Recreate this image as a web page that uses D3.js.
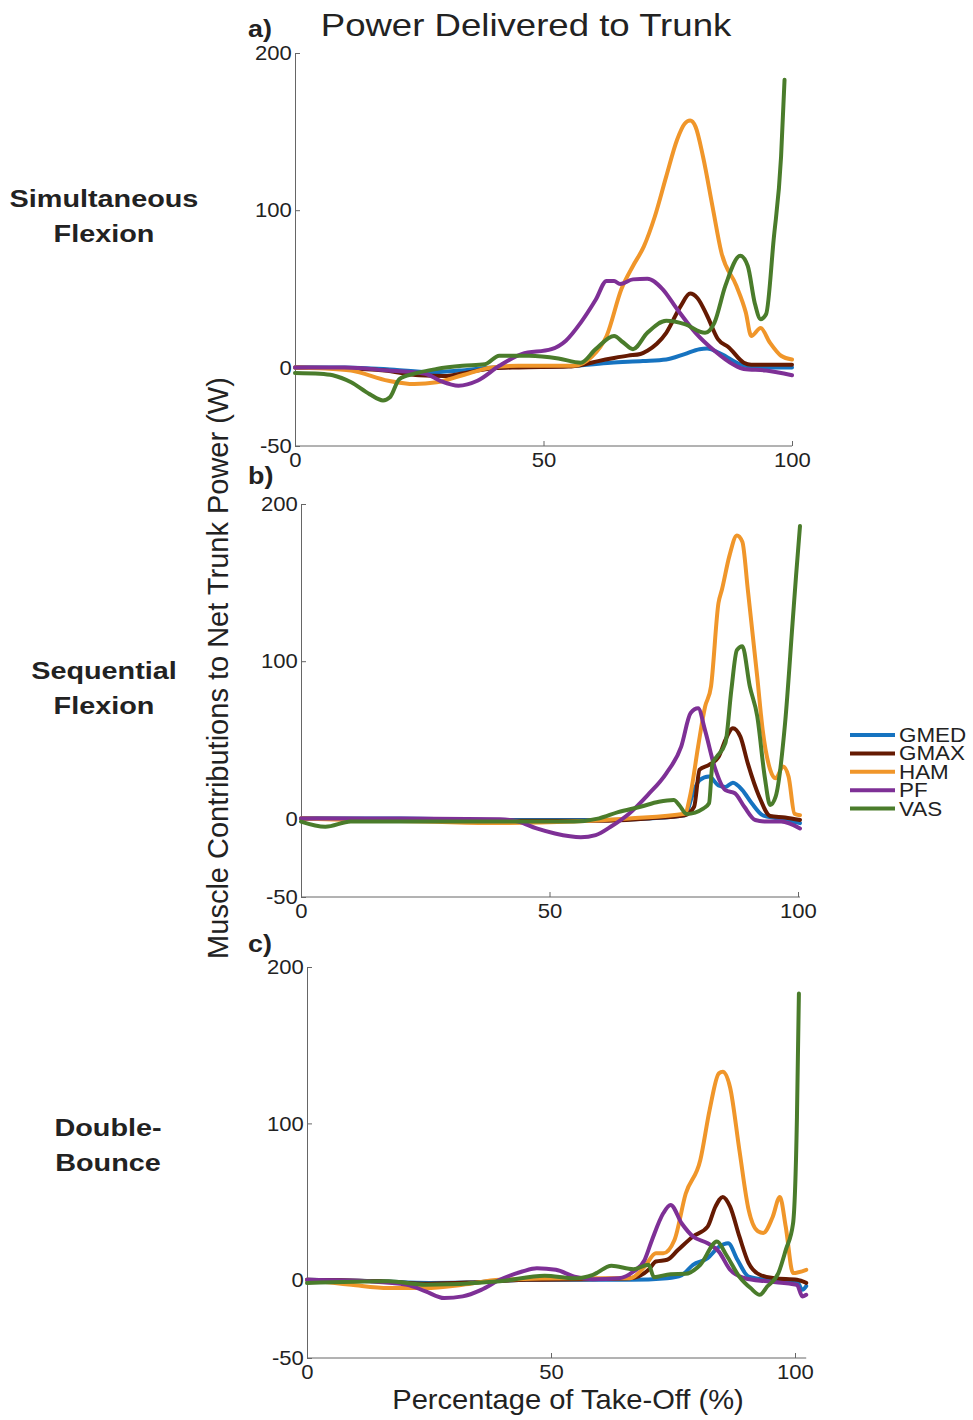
<!DOCTYPE html>
<html>
<head>
<meta charset="utf-8">
<script src="https://cdn.jsdelivr.net/npm/d3@7"></script>
<style>
  body { margin: 0; background: #fff; }
  text { font-family: "Liberation Sans", Arial, sans-serif; fill: #222; }
</style>
</head>
<body>
<div id="chart"></div>
<script>
// muscles, drawn in this order (VAS last, on top)
var muscles = ['GMED', 'GMAX', 'HAM', 'PF', 'VAS'];
var colors = ['#1673c0', '#651a02', '#f0962a', '#7e3096', '#4a7c2b'];
var xTicks = [0, 50, 100];
var yTicks = [-50, 0, 100, 200];

// a) Simultaneous Flexion  [percent take-off, power W]
var simGMED = [[0,0],[10,0],[20,-1.5],[27,-3],[33,-2],[40,0],[50,0.5],[56,1],[63.5,3],[70,4],[74.7,5],[78.4,8.5],[81.4,11.6],[82.9,12],[85.8,8.5],[89.6,2],[93.3,0],[100,0]];
var simGMAX = [[0,0],[10,-0.5],[18,-2],[25,-5],[30,-5.5],[35,-3],[40,-0.5],[45,0],[55,0.5],[58.3,2],[61,4],[64.2,6],[67,7.5],[69.5,8.5],[70.9,10.6],[72.8,15],[74.7,22],[77.6,39],[79.5,47],[81,44],[82.9,33],[85.1,18],[87.3,12.7],[90.3,3],[91.8,1.7],[100,1.7]];
var simHAM = [[0,0],[5,-0.5],[11.3,-2],[18.8,-8.5],[24,-10.6],[28.5,-9.5],[33.7,-5],[39.6,0],[44.9,1],[56,1],[59.8,7],[62.7,20],[65.7,50],[68,64.5],[70.2,77],[72.4,96],[74.7,121.5],[76.9,145],[78.4,155],[79.5,157],[80.6,153],[82.1,134],[84,102.5],[85.8,73],[88.8,52],[90.7,35],[91.8,20],[93.7,25],[95.5,16],[97.8,7.4],[100,5]];
var simPF = [[0,0],[10,0],[18.8,-2],[26.2,-4],[29.2,-8.5],[32.9,-11.6],[36.7,-8.5],[41.1,1],[45.6,8.5],[51.6,11.6],[54.5,17],[57.5,28.5],[60.5,43],[62.7,55],[64.2,55],[65.4,53],[68,56],[70.9,56.4],[73.9,50],[76.9,37],[80.6,22],[84.4,10.6],[88.1,2],[90.3,-1],[94.8,-2],[100,-5]];
var simVAS = [[0,-3.5],[5,-4],[7.6,-5],[11.3,-9.5],[15,-17],[17.7,-21],[19.1,-19],[21,-7.4],[24,-4],[28.5,-1],[33.7,1],[38.2,2],[41.1,7.4],[47.1,7.4],[53,5.7],[57.5,3],[60.5,11.6],[64.2,20],[66,16],[68,11.6],[70.9,22],[74.7,29.6],[78.4,27.5],[82.5,22],[84.4,28.5],[86.6,52],[89.6,71],[91.1,64.5],[92.5,41],[93.7,30.7],[94.8,34],[96.3,81],[97.8,134],[98.5,183]];

// b) Sequential Flexion
var seqGMED = [[0,0],[20,0],[40,-1],[60,-1],[70,0],[77.2,2],[79.1,18],[80.2,24.4],[82.1,26.6],[84,21],[85.4,20],[86.9,22.7],[88.8,18],[90.7,9.6],[92.9,2],[95.9,0],[100.4,-3]];
var seqGMAX = [[0,0],[20,-0.5],[40,-1.5],[60,-1.5],[70,0],[77.2,2],[79.1,7.4],[80.2,31],[82.1,34],[84,39],[85.4,50],[86.9,57.4],[88.4,52],[89.9,35],[92.2,13.8],[94.4,1.5],[97.4,0.6],[100.4,-1]];
var seqHAM = [[0,0],[10,-1],[25,-2],[39.9,-3],[54.9,-2],[66,0],[77.2,3],[78.4,16],[79.9,45.7],[81.3,71],[82.5,84],[84,137],[84.7,145.6],[86.2,167],[87.7,180],[88.8,176],[89.9,145.6],[91.8,90],[92.9,56],[94.4,31],[95.5,25.5],[97,33],[98.1,26.6],[99.3,3],[100.4,2]];
var seqPF = [[0,0],[20,0],[40,-0.5],[43.7,-2],[47.4,-6.4],[51.1,-9.6],[56.3,-12],[59.3,-10.6],[62.3,-5.3],[66,3],[69.8,15],[73.5,28.7],[76.5,45.7],[78.4,67],[79.9,70],[81.3,56],[83.2,33],[85.4,18],[87.3,16],[89.2,7.4],[91.4,-1],[93.7,-2],[96.6,-2],[100.4,-6.4]];
var seqVAS = [[0,-2],[4.9,-5.3],[10,-2],[32.5,-2],[54.9,-2],[60,0],[63.8,4],[68.3,7.4],[72,10.6],[75,11.7],[76.1,8.5],[77.6,2.8],[81,6.4],[82.1,9.6],[82.8,35],[83.6,39],[85.4,48],[86.6,82],[87.7,107],[88.8,109.5],[90.3,84],[91.8,65],[93.3,26.6],[94.4,8.5],[95.5,13.8],[97.4,60.6],[98.9,124],[99.6,154],[100.4,186]];

// c) Double-Bounce
var dbGMED = [[0,0],[15,-1],[25,-2],[35,-1.5],[45,0],[66.2,0],[73.8,1],[76.8,3],[79.1,9.6],[82.1,13.8],[84.4,21],[86.3,23.4],[88.2,12.8],[90.5,2],[94.3,0],[100.4,-1],[101.5,-6.4],[102.3,-4]];
var dbGMAX = [[0,0],[15,-1],[25,-2.5],[35,-1.5],[45,0],[60,0.5],[66.2,1],[70,6.4],[71.5,11.7],[73.8,12.8],[76,19],[79.1,27.7],[82.1,34],[83.7,46.8],[85.2,53],[86.7,46.8],[88.6,27.7],[90.5,10.6],[92.8,3.2],[95.8,1],[100.4,0],[102.3,-2]];
var dbHAM = [[0,0],[9.1,-3.2],[16.7,-5.3],[24.3,-5.3],[31.9,-3.2],[39.5,0],[54.8,1],[66.2,1],[69.2,8.5],[71.5,17],[73,17],[75.3,25.5],[77.6,55],[80.6,76.6],[82.5,108.5],[84.4,132],[85.2,133],[86.7,123],[88.6,83],[90.5,44.7],[92.4,31],[93.5,30],[95.4,40],[96.9,53],[98.1,34],[99.6,4.3],[102.3,6.4]];
var dbPF = [[0,0],[12.9,-1],[20.5,-3.2],[24.3,-7.4],[28.1,-11.7],[31.9,-10.6],[35.7,-6.4],[39.5,0],[44.1,5.3],[47.1,7.4],[51,6.4],[54.8,2],[58.6,0.4],[63.9,1],[66.9,5.3],[69.2,12.8],[70.7,25.5],[73,42.5],[74.5,47.9],[76.8,36],[79.1,27.7],[82.1,23.4],[84.4,18],[86.7,6.4],[89.7,1],[94.3,-1],[100.4,-3.2],[101.5,-10.6],[102.3,-9.6]];
var dbVAS = [[0,-2],[16.7,-1],[24.3,-3.2],[39.5,-1],[48.7,2.6],[54.8,1],[58.6,3.2],[62.4,9],[66.9,6.8],[70,9.6],[71.1,1.7],[74.5,3.6],[77.6,3.8],[80.6,9.6],[84,24.5],[85.9,16],[88.6,2],[90.9,-5.3],[92.8,-9.6],[94.3,-4.3],[96.6,4.3],[98.1,19],[99.6,36],[100.4,104],[100.8,183]];

var panels = [
  {tag: 'a)', tagY: 37, rows: ['Simultaneous', 'Flexion'], series: [simGMED, simGMAX, simHAM, simPF, simVAS],
   left: 295, right: 792, xMax: 100, top: 53, bottom: 446, labelX: 104, labelY: 201},
  {tag: 'b)', tagY: 484, rows: ['Sequential', 'Flexion'], series: [seqGMED, seqGMAX, seqHAM, seqPF, seqVAS],
   left: 301, right: 798, xMax: 100, top: 504, bottom: 897, labelX: 104, labelY: 673},
  {tag: 'c)', tagY: 952, rows: ['Double-', 'Bounce'], series: [dbGMED, dbGMAX, dbHAM, dbPF, dbVAS],
   left: 307, right: 795, xMax: 100, top: 967, bottom: 1358, labelX: 108, labelY: 1130}
];

var W = 973, H = 1420;
var svg = d3.select('#chart').append('svg').attr('width', W).attr('height', H);

// text helper: the source figure is a little stretched sideways
function label(x, y, str, size, sx, anchor, bold) {
  return svg.append('text')
    .attr('transform', 'translate(' + x + ',' + y + ') scale(' + sx + ',1)')
    .attr('text-anchor', anchor || 'start')
    .style('font-size', size + 'px')
    .style('font-weight', bold ? 'bold' : 'normal')
    .text(str);
}

label(526, 36, 'Power Delivered to Trunk', 31, 1.18, 'middle');

panels.forEach(function(p) {
  var xEnd = d3.max(p.series, function(s) { return s[s.length - 1][0]; });
  var x = d3.scaleLinear().domain([0, p.xMax]).range([p.left, p.right]);
  var y = d3.scaleLinear().domain([-50, 200]).range([p.bottom, p.top]);
  var g = svg.append('g');
  var fmt = function(d) { return String(d); };

  var xAxis = g.append('g').attr('transform', 'translate(0,' + p.bottom + ')')
    .call(d3.axisBottom(x).tickValues(xTicks).tickFormat(fmt).tickSizeInner(-5).tickSizeOuter(0).tickPadding(6));
  xAxis.select('.domain').attr('d', 'M' + x(0) + ',0H' + x(Math.max(xEnd, p.xMax)));
  var yAxis = g.append('g').attr('transform', 'translate(' + p.left + ',0)')
    .call(d3.axisLeft(y).tickValues(yTicks).tickFormat(fmt).tickSizeInner(-5).tickSizeOuter(0).tickPadding(3));
  [xAxis, yAxis].forEach(function(a) {
    a.selectAll('.domain, line').attr('stroke', '#666').attr('stroke-width', 1);
    a.selectAll('text').style('font-size', '21px').attr('fill', '#222')
      .attr('transform', 'scale(1.05,1)');
  });

  var line = d3.line().curve(d3.curveMonotoneX)
    .x(function(d) { return x(d[0]); }).y(function(d) { return y(d[1]); });
  p.series.forEach(function(s, i) {
    g.append('path').datum(s).attr('d', line).attr('fill', 'none')
      .attr('stroke', colors[i]).attr('stroke-width', 4)
      .attr('stroke-linejoin', 'round').attr('stroke-linecap', 'round');
  });

  label(248, p.tagY, p.tag, 24, 1.12, 'start', true);
  p.rows.forEach(function(r, k) {
    label(p.labelX, p.labelY + k * 35, r, 24, 1.2, 'middle', true)
      .attr('dominant-baseline', 'middle');
  });
});

label(218, 668, 'Muscle Contributions to Net Trunk Power (W)', 29, 1, 'middle')
  .attr('transform', 'translate(218,668) rotate(-90)')
  .attr('dominant-baseline', 'central');

label(568, 1409, 'Percentage of Take-Off (%)', 28, 1.04, 'middle');

// legend
var legend = svg.append('g').attr('transform', 'translate(850,735)');
muscles.forEach(function(m, i) {
  var row = legend.append('g').attr('transform', 'translate(0,' + (i * 18.4) + ')');
  row.append('line').attr('x1', 0).attr('x2', 45).attr('stroke', colors[i]).attr('stroke-width', 4);
  row.append('text').attr('transform', 'translate(49,0) scale(1.12,1)')
    .attr('dominant-baseline', 'central')
    .style('font-size', '20px').text(m);
});
</script>
</body>
</html>
